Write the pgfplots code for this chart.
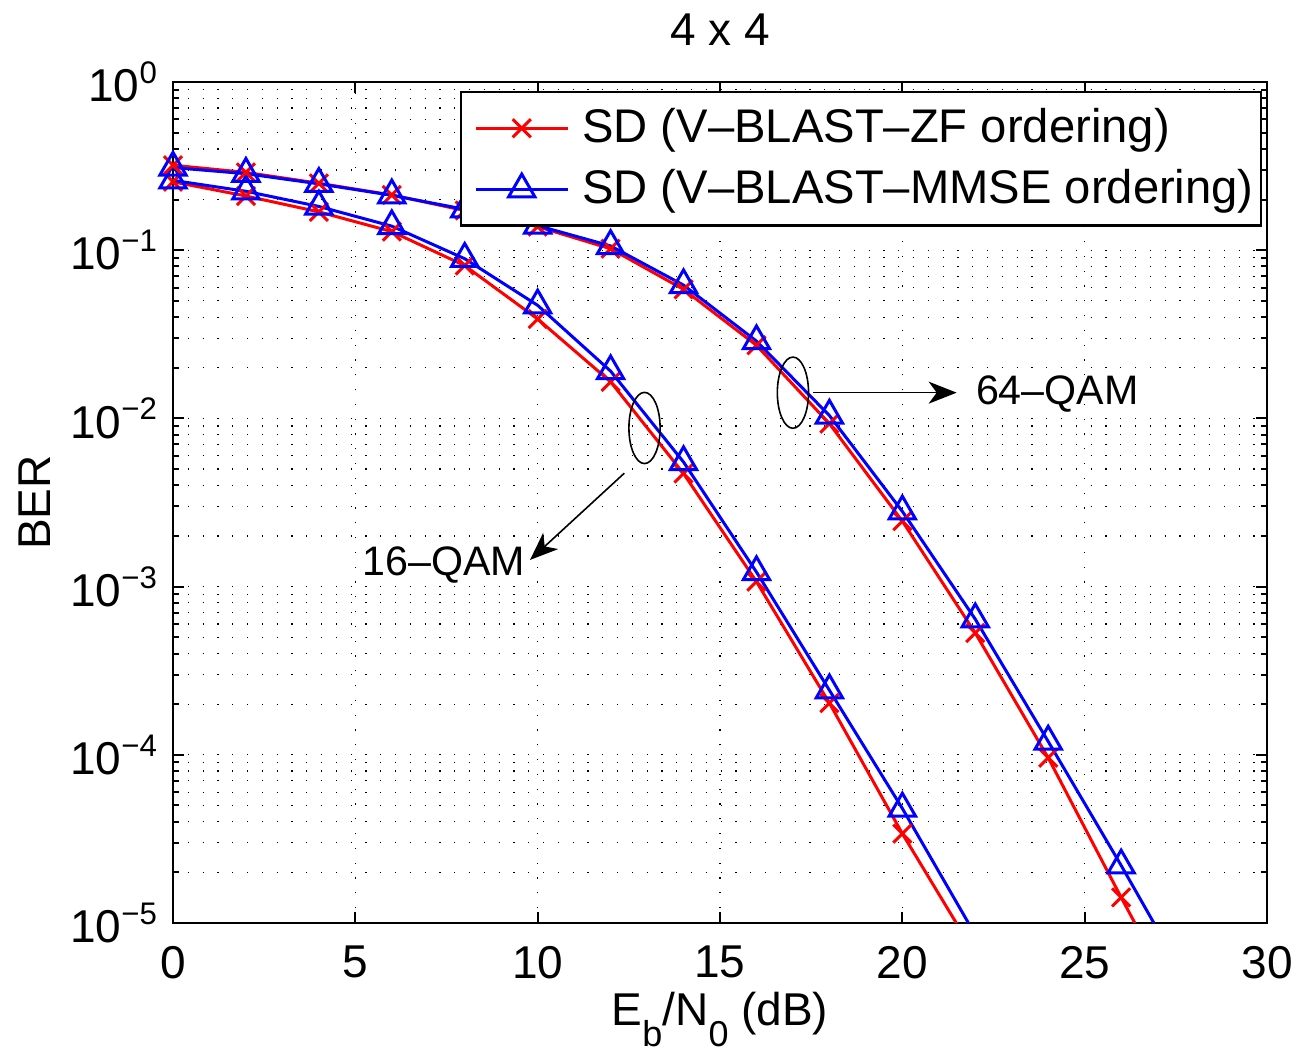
\documentclass[border=0pt]{standalone}
\usepackage{pgfplots}
\pgfplotsset{compat=1.18}
\usepackage{fontspec}
\setmainfont{Liberation Sans}
\usetikzlibrary{arrows.meta}
\newcommand\sups[1]{\raisebox{4.6pt}{\fontsize{7.8}{9}\selectfont #1}}
\newcommand\subs[1]{\raisebox{-5.3pt}{\fontsize{9}{10}\selectfont #1}}
\begin{document}
\begin{tikzpicture}[font=\fontsize{11.5}{13.8}\selectfont]
\begin{axis}[
  name=ax, at={(0,0)}, anchor=south west,
  scale only axis, width=273.5pt, height=210.25pt,
  xmin=0, xmax=30, ymode=log, ymin=1e-5, ymax=1,
  log basis y=10,
  xtick={0,5,10,15,20,25,30},
  ytick={1e-5,1e-4,1e-3,1e-2,1e-1,1},
  minor ytick={2e-5,3e-5,4e-5,5e-5,6e-5,7e-5,8e-5,9e-5,
               2e-4,3e-4,4e-4,5e-4,6e-4,7e-4,8e-4,9e-4,
               2e-3,3e-3,4e-3,5e-3,6e-3,7e-3,8e-3,9e-3,
               2e-2,3e-2,4e-2,5e-2,6e-2,7e-2,8e-2,9e-2,
               2e-1,3e-1,4e-1,5e-1,6e-1,7e-1,8e-1,9e-1},
  yticklabels={10\sups{−5},10\sups{−4},10\sups{−3},10\sups{−2},10\sups{−1},10\sups{0}},
  xticklabel style={/pgf/number format/assume math mode=true, yshift=-2.2pt},
  yticklabel style={xshift=-0.5pt},
  minor x tick num=0,
  tick pos=both, tick align=inside,
  major tick length=2.75pt, minor tick length=1.4pt,
  every tick/.style={black, line width=0.5pt},
  axis line style={line width=0.6pt},
  grid=both,
  major grid style={line width=0.3pt, black, dash pattern=on 0.3pt off 3.4pt},
  minor grid style={line width=0.3pt, black, dash pattern=on 0.3pt off 3.4pt},
  title={4 x 4},
  title style={at={(axis description cs:0.5,1.0143)}, anchor=base},
  xlabel={E\subs{b}/N\subs{0} (dB)},
  ylabel={BER},
  every axis x label/.style={at={(axis description cs:0.5,-0.1213)}, anchor=base},
  every axis y label/.style={at={(axis description cs:-0.1261,0.5)}, rotate=90, anchor=center},
  legend style={at={(0.9954,0.9893)}, anchor=north east, draw=black, line width=0.6pt,
     fill=white, inner xsep=0pt, inner ysep=2pt, row sep=1.2pt,
     nodes={inner xsep=1.75pt},
     font=\fontsize{11.8}{14}\selectfont},
  legend cell align=left,
  legend image code/.code={\path (0pt,0pt) (27.75pt,0pt);\draw[mark repeat=2,mark phase=2,#1] plot coordinates {(3.25pt,0pt)(14.75pt,0pt)(26.25pt,0pt)};},
]
\addplot[red, line width=0.75pt, mark=x, mark size=3.2pt, mark options={solid}] coordinates {
(0,0.255)(2,0.21)(4,0.169)(6,0.129)(8,0.081)(10,0.039)(12,0.0165)(14,0.0047)(16,0.00107)(18,2.03e-4)(20,3.4e-5)(22,6.5e-6)};
\addlegendentry{SD (V–BLAST–ZF ordering)}
\addplot[blue, line width=0.75pt, mark=triangle, mark size=3.8pt, mark options={solid}] coordinates {
(0,0.26)(2,0.224)(4,0.182)(6,0.139)(8,0.089)(10,0.047)(12,0.0191)(14,0.0055)(16,0.00122)(18,2.42e-4)(20,4.8e-5)(22,8.5e-6)};
\addlegendentry{SD (V–BLAST–MMSE ordering)}
\addplot[red, line width=0.75pt, mark=x, mark size=3.2pt, forget plot] coordinates {
(0,0.32)(2,0.29)(4,0.25)(6,0.213)(8,0.172)(10,0.138)(12,0.102)(14,0.0585)(16,0.0272)(18,0.0093)(20,0.00245)(22,5.3e-4)(24,9.6e-5)(26,1.42e-5)(28,2.2e-6)};
\addplot[blue, line width=0.75pt, mark=triangle, mark size=3.8pt, forget plot] coordinates {
(0,0.31)(2,0.285)(4,0.248)(6,0.212)(8,0.175)(10,0.14)(12,0.106)(14,0.062)(16,0.0288)(18,0.0104)(20,0.0028)(22,6.4e-4)(24,1.2e-4)(26,2.2e-5)(28,3.8e-6)};
\draw[line width=0.4pt] (axis cs:12.93,0.00877) ellipse [x radius=3.9pt, y radius=8.9pt];
\draw[line width=0.4pt] (axis cs:17.0,0.01422) ellipse [x radius=3.9pt, y radius=8.9pt];
\draw[line width=0.4pt, -{Stealth[length=7pt,width=5.5pt,inset=2pt]}] (axis cs:12.375,0.00472) -- (axis cs:9.79,0.00144);
\draw[line width=0.4pt, -{Stealth[length=7pt,width=5.5pt,inset=2pt]}] (axis cs:17.56,0.01422) -- (axis cs:21.49,0.01422);
\node[anchor=center, inner sep=0pt, font=\fontsize{10.3}{12}\selectfont] at (axis cs:7.43,0.001343) {16–QAM};
\node[anchor=west, inner sep=0pt, font=\fontsize{10.3}{12}\selectfont] at (axis cs:22.0,0.0139) {64–QAM};
\end{axis}
\pgfresetboundingbox
\path[use as bounding box] ([xshift=-43.25pt,yshift=-32.5pt]ax.south west) rectangle ([xshift=7.5pt,yshift=20.5pt]ax.north east);
\end{tikzpicture}
\end{document}
